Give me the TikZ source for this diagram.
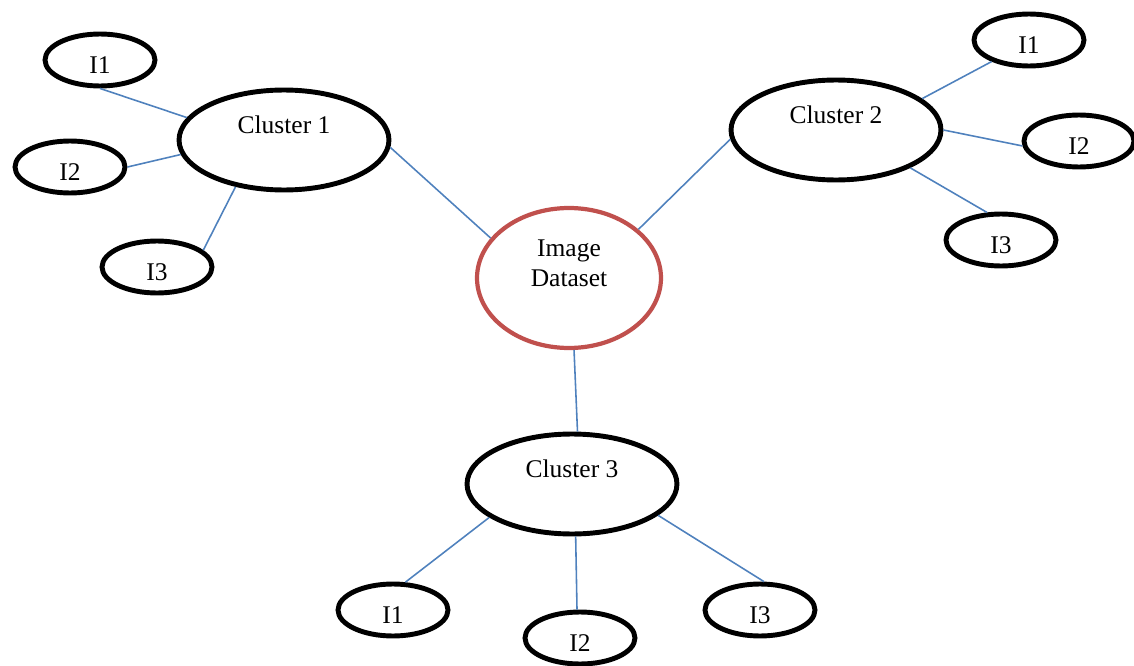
\documentclass[tikz,border=0pt]{standalone}
\usepackage{fontspec}
\setmainfont{Liberation Serif}
\usepackage{xcolor}
\usetikzlibrary{shapes.geometric}

\definecolor{linkblue}{HTML}{4F81BD}
\definecolor{datared}{HTML}{C0504D}
\newcommand{\liftup}[2]{\raisebox{#1}[\height][\depth]{\begin{tabular}{@{}c@{}}#2\end{tabular}}}

\begin{document}
\begin{tikzpicture}[
  x=0.02cm,y=-0.02cm,
  font=\fontsize{14.5}{17}\selectfont,
  cluster/.style={draw,ellipse,line width=2.8pt,minimum width=4.2cm,minimum height=2.0cm,inner sep=0pt},
  item/.style={draw,ellipse,line width=2.8pt,minimum width=2.2cm,minimum height=1.04cm,inner sep=0pt},
  dataset/.style={draw=datared,ellipse,line width=2.4pt,minimum width=3.68cm,minimum height=2.8cm,inner sep=0pt},
  link/.style={draw=linkblue,line width=0.9pt}
]
\useasboundingbox (0,0) rectangle (1134,666);
% centre
\node[dataset] (data) at (569,278) {\liftup{7pt}{Image\\Dataset}};
% clusters
\node[cluster] (c1) at (284,140) {\liftup{7pt}{Cluster 1}};
\node[cluster] (c2) at (836,130) {\liftup{7pt}{Cluster 2}};
\node[cluster] (c3) at (572,484) {\liftup{7pt}{Cluster 3}};
% images of each cluster
\foreach \n/\x/\y/\lab in {c1i1/100/60/I1,c1i2/70/167/I2,c1i3/157/267/I3,
                           c2i1/1029/40/I1,c2i2/1079/141/I2,c2i3/1001/240/I3,
                           c3i1/393/610/I1,c3i2/580/638/I2,c3i3/760/610/I3}{
  \node[item] (\n) at (\x,\y) {\liftup{-4pt}{\lab}};
}
% links
\foreach \a/\b in {c1.-4/data.153,c2.-175/data.35,data.-86/c3.84,
                   c1.167/c1i1.south,c1.-172/c1i2.east,c1.-136/c1i3.20,
                   c2.20/c2i1.210,c2.0/c2i2.185,c2.-27/c2i3.117,
                   c3.-158/c3i1.66,c3.-86/c3i2.96,c3.-20/c3i3.82}{
  \draw[link] (\a) -- (\b);
}
\end{tikzpicture}
\end{document}
